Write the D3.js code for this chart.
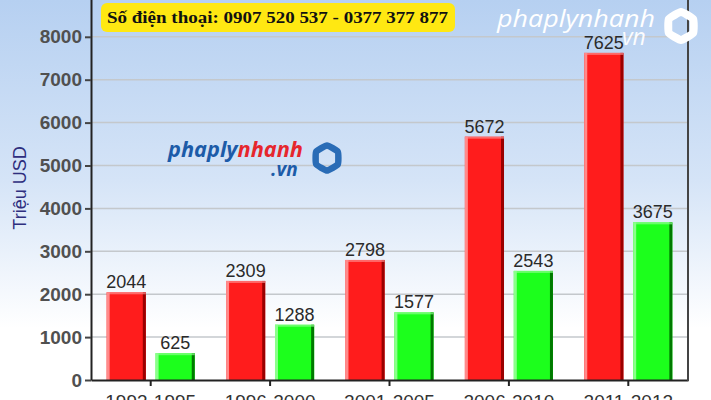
<!DOCTYPE html>
<html><head><meta charset="utf-8">
<script src="https://cdn.jsdelivr.net/npm/d3@7"></script>
<style>body{margin:0;overflow:hidden}svg{display:block}</style>
</head><body>
<svg id="c" width="711" height="400"></svg>
<script>
const categories = ["1993-1995","1996-2000","2001-2005","2006-2010","2011-2012"];
const seriesRed = [2044, 2309, 2798, 5672, 7625];
const seriesGreen = [625, 1288, 1577, 2543, 3675];
const yTicks = [0,1000,2000,3000,4000,5000,6000,7000,8000,9000];
const yLabel = "Triệu USD";
const phoneText = "Số điện thoại: 0907 520 537 - 0377 377 877";

const W = 711, H = 400;
const m = {left: 91, right: 23, bottom: 20};
const plotR = W - m.right, plotB = 380;
const svg = d3.select("#c");
const defs = svg.append("defs");
const g0 = defs.append("linearGradient").attr("id","bg").attr("x1",0).attr("y1",0).attr("x2",0).attr("y2",1);
g0.append("stop").attr("offset","0").attr("stop-color","#b6d0f1");
g0.append("stop").attr("offset","0.45").attr("stop-color","#d5e4f7");
g0.append("stop").attr("offset","0.82").attr("stop-color","#ffffff");
g0.append("stop").attr("offset","1").attr("stop-color","#ffffff");
svg.append("rect").attr("width",W).attr("height",H).attr("fill","url(#bg)");

const y = d3.scaleLinear().domain([0,9000]).range([plotB, plotB - 9*42.9]);
const x = d3.scaleBand().domain(categories).range([m.left, plotR]).paddingInner(0).paddingOuter(0);
const inner = d3.scaleBand().domain(["r","g"]).range([0, x.bandwidth()]).paddingInner(0.2).paddingOuter(0.32);

// gridlines
svg.append("g").selectAll("line").data(yTicks.filter(d=>d>0)).join("line")
  .attr("x1",m.left).attr("x2",plotR).attr("y1",d=>y(d)).attr("y2",d=>y(d))
  .attr("stroke","#c4c8cc").attr("stroke-width",1.5);

// bars
const palettes = {
  r:{main:"#ff1c1c", light:"#ff8a8a", dark:"#9a0000"},
  g:{main:"#1cff1c", light:"#8aff8a", dark:"#007a00"}
};
const barData = [];
categories.forEach((c,i)=>{
  barData.push({c, k:"r", v:seriesRed[i]});
  barData.push({c, k:"g", v:seriesGreen[i]});
});
const bars = svg.append("g").selectAll("g").data(barData).join("g");
bars.append("rect").attr("x",d=>x(d.c)+inner(d.k)).attr("y",d=>y(d.v))
  .attr("width",inner.bandwidth()).attr("height",d=>plotB-y(d.v))
  .attr("fill",d=>palettes[d.k].main);
bars.append("rect").attr("x",d=>x(d.c)+inner(d.k)).attr("y",d=>y(d.v))
  .attr("width",3).attr("height",d=>plotB-y(d.v))
  .attr("fill",d=>palettes[d.k].light);
bars.append("rect").attr("x",d=>x(d.c)+inner(d.k)+inner.bandwidth()-3).attr("y",d=>y(d.v))
  .attr("width",3).attr("height",d=>plotB-y(d.v))
  .attr("fill",d=>palettes[d.k].dark);
bars.append("rect").attr("x",d=>x(d.c)+inner(d.k)).attr("y",d=>y(d.v))
  .attr("width",inner.bandwidth()).attr("height",2)
  .attr("fill",d=>palettes[d.k].light).attr("opacity",0.7);
bars.append("text").attr("x",d=>x(d.c)+inner(d.k)+inner.bandwidth()/2).attr("y",d=>y(d.v)-4)
  .attr("text-anchor","middle").attr("font-family","Liberation Sans, Arial, sans-serif")
  .attr("font-size",18).attr("fill","#2a2a2a").text(d=>d.v);

// axes
const yAxis = d3.axisLeft(y).tickValues(yTicks).tickFormat(d3.format("d")).tickSize(6).tickPadding(3).tickSizeOuter(0);
const ya = svg.append("g").attr("transform",`translate(${m.left},0)`).call(yAxis);
ya.select(".domain").attr("stroke","#222").attr("stroke-width",2);
ya.selectAll(".tick line").attr("stroke","#444").attr("stroke-width",2);
ya.selectAll(".tick text").attr("font-family","Liberation Sans, Arial, sans-serif")
  .attr("font-size",19).attr("font-weight","bold").attr("fill","#505050");

const xAxis = d3.axisBottom(x).tickSize(6).tickPadding(9).tickSizeOuter(0);
const xa = svg.append("g").attr("transform",`translate(0,${plotB})`).call(xAxis);
xa.select(".domain").attr("stroke","#222").attr("stroke-width",2);
xa.selectAll(".tick line").attr("stroke","#222").attr("stroke-width",2);
xa.selectAll(".tick text").attr("font-family","Liberation Sans, Arial, sans-serif")
  .attr("font-size",19).attr("fill","#333");

// right border
svg.append("line").attr("x1",plotR).attr("x2",plotR).attr("y1",0).attr("y2",plotB+1)
  .attr("stroke","#444").attr("stroke-width",2);

// y label
svg.append("text").attr("transform","translate(26,188) rotate(-90)")
  .attr("text-anchor","middle").attr("font-family","Liberation Sans, Arial, sans-serif")
  .attr("font-size",18).attr("fill","#2e2e7e").text(yLabel);

// phone box
svg.append("rect").attr("x",101).attr("y",3).attr("width",354).attr("height",29).attr("rx",6)
  .attr("fill","#ffe812");
svg.append("text").attr("x",107).attr("y",23).attr("font-family","Liberation Serif, serif")
  .attr("font-weight","bold").attr("font-size",17).attr("textLength",341).attr("lengthAdjust","spacingAndGlyphs")
  .attr("fill","#111").text(phoneText);

// hexagon ring helper
function hex(cx, cy, r, sw, color){
  const pts = d3.range(6).map(i=>{const a = Math.PI/6 + i*Math.PI/3; return [cx + r*Math.cos(a), cy + r*Math.sin(a)];});
  svg.append("path").attr("d", d3.line().curve(d3.curveCardinalClosed.tension(0.6))(pts))
    .attr("fill","none").attr("stroke",color).attr("stroke-width",sw).attr("stroke-linejoin","round");
}

// middle logo
const ml = svg.append("text").attr("x",168).attr("y",157).attr("font-family","Open Sans, Liberation Sans, sans-serif")
  .attr("font-style","italic").attr("font-weight","bold").attr("font-size",21)
  .attr("textLength",135).attr("lengthAdjust","spacingAndGlyphs");
ml.append("tspan").attr("fill","#1c5ba8").text("phaply");
ml.append("tspan").attr("fill","#e6262d").text("nhanh");
svg.append("text").attr("x",271).attr("y",176).attr("font-family","Open Sans, Liberation Sans, sans-serif")
  .attr("font-style","italic").attr("font-weight","bold").attr("font-size",19).attr("fill","#1c5ba8").text(".vn");
hex(327, 158, 12.5, 6.5, "#2a6cb6");

// top-right logo
svg.append("text").attr("x",497).attr("y",27).attr("font-family","Open Sans, Liberation Sans, sans-serif")
  .attr("font-style","italic").attr("font-size",24).attr("fill","#ffffff")
  .attr("textLength",158).attr("lengthAdjust","spacingAndGlyphs").text("phaplynhanh");
svg.append("text").attr("x",622).attr("y",45).attr("font-family","Open Sans, Liberation Sans, sans-serif")
  .attr("font-style","italic").attr("font-size",23).attr("fill","#ffffff").attr("opacity",0.95).text("vn");
hex(681, 26, 14, 8, "#ffffff");
</script>
</body></html>
